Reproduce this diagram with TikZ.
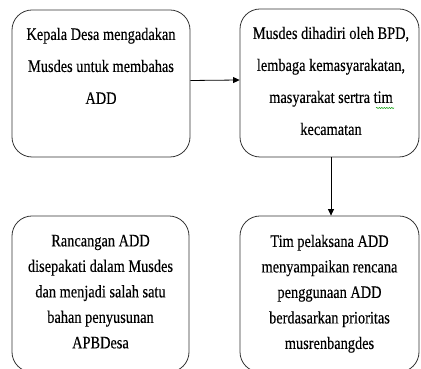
\documentclass[tikz,border=0pt]{standalone}
\usepackage{fontspec}
\setmainfont{Liberation Serif}[FakeStretch=0.82,FakeBold=0.3]
\usetikzlibrary{arrows.meta,positioning,decorations.pathmorphing}

\begin{document}
\begin{tikzpicture}[x=1pt,y=1pt,
  kotak/.style={draw=black!80,line width=0.8pt,rounded corners=20pt,minimum width=178pt,minimum height=147pt,inner sep=0pt},
  isi/.style={inner sep=0pt,align=center,font=\fontsize{17.5}{32}\selectfont},
  isirapat/.style={inner sep=0pt,align=center,font=\fontsize{17.5}{25.5}\selectfont},
  panah/.style={line width=0.8pt,-{Triangle[length=6.5pt,width=6pt]}}]
  \path[use as bounding box,clip] (0,0) rectangle (421,369);
  \node[kotak] (kades) at (101,285.5){};
  \node[kotak,minimum width=179pt,minimum height=148pt] (musdes) at (329.5,286){};
  \node[kotak,minimum width=177pt,minimum height=156pt] (rancangan) at (100.5,75){}; % bawah terpotong
  \node[kotak,minimum width=179pt,minimum height=156pt] (timpel) at (329.5,75){};
  \node[isi,below=18pt of kades.north] (kadesIsi){Kepala Desa mengadakan\\Musdes untuk membahas\\ADD};
  \node[isi,below=18pt of musdes.north,xshift=1.5pt] (musdesIsi){Musdes dihadiri oleh BPD,\\lembaga kemasyarakatan,\\masyarakat sertra tim\\kecamatan};
  \node[isirapat,below=19pt of rancangan.north] (rancanganIsi){Rancangan ADD\\disepakati dalam Musdes\\dan menjadi salah satu\\bahan penyusunan\\APBDesa};
  \node[isirapat,below=19pt of timpel.north] (timpelIsi){Tim pelaksana ADD\\menyampaikan rencana\\penggunaan ADD\\berdasarkan prioritas\\musrenbangdes};
  \draw[green!60!black,line width=0.5pt,decorate,decoration={snake,amplitude=0.6pt,segment length=2.5pt}] (376,261) -- (394,261); % garis ejaan
  \draw[panah] ([yshift=3pt]kades.east) -- ([yshift=3pt]musdes.west);
  \draw[panah] ([xshift=1.5pt]musdes.south) -- ([xshift=1.5pt]timpel.north);
\end{tikzpicture}
\end{document}
